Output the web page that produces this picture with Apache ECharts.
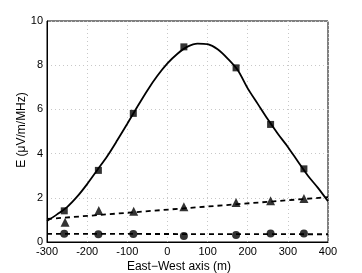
<!DOCTYPE html>
<html>
<head>
<meta charset="utf-8">
<script src="https://cdn.jsdelivr.net/npm/echarts@6/dist/echarts.min.js"></script>
<style>html,body{margin:0;padding:0;background:#fff}#c{width:362px;height:273px}</style>
</head>
<body>
<div id="c"></div>
<script>
const squareX = [-257, -172, -85, 41, 171, 257, 340];
const squareY = [1.41, 3.24, 5.82, 8.83, 7.88, 5.32, 3.31];
const curveX = [-300, -275, -250, -225, -200, -175, -150, -125, -100, -75, -50, -25, 0, 25, 50, 75, 100, 125, 150, 175, 200, 225, 250, 275, 300, 325, 350, 375, 400];
const curveY = [0.95, 1.25, 1.58, 2.05, 2.62, 3.25, 3.88, 4.6, 5.35, 6.12, 6.86, 7.52, 8.08, 8.52, 8.84, 8.98, 8.95, 8.72, 8.3, 7.78, 6.95, 6.25, 5.55, 4.9, 4.3, 3.64, 3.0, 2.45, 1.84];
// Triangles and dashed linear fit
const triX = [-255, -171, -84, 41, 171, 257, 340];
const triY = [0.89, 1.43, 1.39, 1.59, 1.79, 1.87, 1.97];
const triFitX = [-300, 400];
const triFitY = [1.04, 2.03];
// Circles and dashed linear fit
const circX = [-257, -172, -85, 41, 171, 257, 340];
const circY = [0.37, 0.35, 0.36, 0.27, 0.32, 0.38, 0.39];
const circFitX = [-300, 400];
const circFitY = [0.37, 0.35];
// Axes
const xTicks = [-300, -200, -100, 0, 100, 200, 300, 400];
const yTicks = [0, 2, 4, 6, 8, 10];
const xTitle = 'East\u2212West axis (m)';
const yTitle = 'E (\u03bcV/m/MHz)';

const pairs = (xs, ys) => xs.map((x, i) => [x, ys[i]]);
const FONT = '"Liberation Sans", Arial, Helvetica, sans-serif';

const chart = echarts.init(document.getElementById('c'), null, {renderer: 'canvas'});
chart.setOption({
  animation: false,
  backgroundColor: '#fff',
  grid: {left: 47, right: 34, top: 21, bottom: 31, show: true, borderColor: '#000', borderWidth: 1, backgroundColor: 'transparent'},
  graphic: [
    {type: 'text', x: 179, y: 267, silent: true,
     style: {text: xTitle, font: '12px ' + FONT, fill: '#000', align: 'center', verticalAlign: 'middle'}},
    {type: 'text', x: 22, y: 130, rotation: Math.PI / 2, silent: true,
     style: {text: yTitle, font: '12px ' + FONT, fill: '#000', align: 'center', verticalAlign: 'middle'}}
  ],
  xAxis: {
    type: 'value', min: xTicks[0], max: xTicks[xTicks.length - 1], interval: 100,
    axisLine: {show: true, onZero: false, lineStyle: {color: '#000', width: 1}},
    axisTick: {show: false},
    axisLabel: {fontFamily: FONT, fontSize: 11, color: '#000', margin: 4},
    splitLine: {show: true, lineStyle: {color: '#c8c8c8', type: [1, 3], width: 1}}
  },
  yAxis: {
    type: 'value', min: yTicks[0], max: yTicks[yTicks.length - 1], interval: 2,
    axisLine: {show: true, onZero: false, lineStyle: {color: '#000', width: 1}},
    axisTick: {show: false},
    axisLabel: {fontFamily: FONT, fontSize: 11, color: '#000', margin: 4},
    splitLine: {show: true, lineStyle: {color: '#c8c8c8', type: [1, 3], width: 1}}
  },
  series: [
    {type: 'line', data: pairs(curveX, curveY), smooth: 0.3, showSymbol: false, symbol: 'none',
     lineStyle: {color: '#000', width: 1.8}, z: 3},
    {type: 'line', data: pairs(triFitX, triFitY), showSymbol: false, symbol: 'none',
     lineStyle: {color: '#000', width: 1.8, type: [5, 4]}, z: 3},
    {type: 'line', data: pairs(circFitX, circFitY), showSymbol: false, symbol: 'none',
     lineStyle: {color: '#000', width: 1.8, type: [5, 4]}, z: 3},
    {type: 'scatter', data: pairs(squareX, squareY), symbol: 'rect', symbolSize: 7,
     itemStyle: {color: '#000'}, z: 4},
    {type: 'scatter', data: pairs(triX, triY), symbol: 'triangle', symbolSize: 9,
     itemStyle: {color: '#000'}, z: 4},
    {type: 'scatter', data: pairs(circX, circY), symbol: 'circle', symbolSize: 8,
     itemStyle: {color: '#000'}, z: 4}
  ]
});
</script>
</body>
</html>
